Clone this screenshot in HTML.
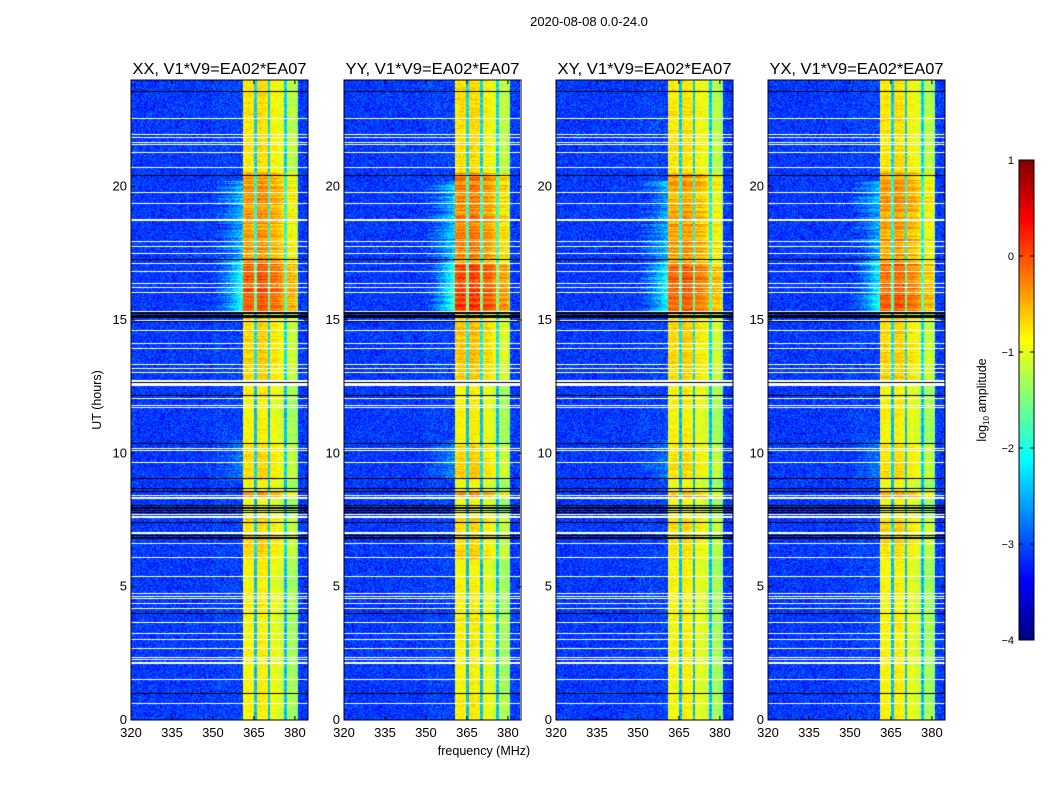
<!DOCTYPE html>
<html><head><meta charset="utf-8">
<style>
body{margin:0;background:#fff;width:1050px;height:800px;overflow:hidden;position:relative;font-family:"Liberation Sans",sans-serif}
canvas{position:absolute}
svg{position:absolute;left:0;top:0}
</style></head>
<body>
<canvas id="c0" width="177" height="640" style="left:131px;top:80px"></canvas>
<canvas id="c1" width="176" height="640" style="left:344px;top:80px"></canvas>
<canvas id="c2" width="177" height="640" style="left:556px;top:80px"></canvas>
<canvas id="c3" width="177" height="640" style="left:768px;top:80px"></canvas>
<canvas id="cb" width="15" height="480" style="left:1019px;top:160px"></canvas>
<svg id="ov" width="1050" height="800"></svg>
<script>
// ---- data ----
const panelTitles = ["XX, V1*V9=EA02*EA07","YY, V1*V9=EA02*EA07","XY, V1*V9=EA02*EA07","YX, V1*V9=EA02*EA07"];
const panelGain = [1.0, 1.2, 0.95, 1.0];
const xTicks = [320,335,350,365,380];
const yTicks = [0,5,10,15,20];
const cbTicks = [1,0,-1,-2,-3,-4];
// baseline log10 amplitude per 1 MHz channel, 320..384
const chanBase = [
-3.1,-3.1,-3.1,-3.1,-3.1,-3.1,-3.1,-3.1,-3.1,-3.1,
-3.1,-3.1,-3.1,-3.1,-3.1,-3.1,-3.1,-3.1,-3.1,-3.1,
-3.1,-3.1,-3.1,-3.1,-3.1,-3.1,-3.1,-3.1,-3.1,-3.1,
-3.05,-3.05,-3.05,-3.05,-3.05,-3.05,-3.05,-3.05,-3.05,-3.05,
-3.05,-0.95,-0.9,-0.9,-0.95,-2.5,-0.85,-0.85,-0.9,-0.9,
-2.5,-1.0,-1.0,-1.05,-1.1,-1.2,-2.5,-1.35,-1.35,-1.35,
-1.45,-3.05,-3.1,-3.1,-3.1];
const bandStart = 361, bandEnd = 380.8;
// band boosts by time segment [startHr, endHr, addLog]
const bandBoost = [[0,6,0.05],[6,7.6,0.2],[8.3,8.6,0.5],[9,10.3,0.2],[10.3,12.5,0.05],[12.8,15.1,0.25],[15.3,17.1,0.8],[17.1,20.5,0.5],[20.5,24,0.15]];
// emission plume left of band [startHr, endHr, strength]
const plume = [[15.3,17.2,0.9],[17.2,20.2,0.5],[9,10.5,0.25]];
// flagged (blank) rows, hours
const whiteRows = [22.56,21.99,21.87,21.68,21.6,21.31,20.73,19.81,19.38,18.79,18.75,17.97,17.79,17.52,17.13,16.84,16.37,16.24,16.06,15.35,15.0,14.62,14.12,13.96,13.34,13.19,13.06,12.75,12.7,12.65,12.6,12.55,12.08,11.81,11.75,10.21,10.12,9.66,8.43,8.38,8.32,7.72,7.66,7.6,7.06,7.0,6.64,6.12,5.41,4.75,4.66,4.56,4.4,4.19,3.69,3.26,3.04,2.7,2.37,2.29,2.19,2.12,1.54,0.65];
const blackRows = [23.58,20.44,17.29,15.3,15.25,15.2,15.15,15.1,14.98,13.2,12.67,12.2,10.4,9.09,8.7,8.6,8.06,8.0,7.94,7.87,7.8,7.44,6.94,6.88,6.82,4.0,1.0];
// ---- helpers ----
const F0=320, F1=384.8, T0=0, T1=24;
function jet(x){x=Math.max(0,Math.min(1,x));const c=v=>Math.round(255*Math.max(0,Math.min(1,v)));
 return [c(1.5-Math.abs(4*x-3)),c(1.5-Math.abs(4*x-2)),c(1.5-Math.abs(4*x-1))];}
function hash(a,b){let h=(a*374761393+b*668265263)|0;h=(h^(h>>>13))*1274126177|0;return ((h^(h>>>16))>>>0)/4294967295;}
function segVal(arr,t){let s=0;for(const g of arr){if(t>=g[0]&&t<g[1])s+=g[2];}return s;}
for(let p=0;p<4;p++){
 const cv=document.getElementById('c'+p),ctx=cv.getContext('2d'),W=cv.width,H=cv.height;
 const im=ctx.createImageData(W,H);
 const whitePx=new Set(whiteRows.map(t=>Math.round((T1-t)/(T1-T0)*H)));
 const blackPx=new Set(blackRows.map(t=>Math.round((T1-t)/(T1-T0)*H)));
 for(let y=0;y<H;y++){
  const t=T1-(y+0.5)/H*(T1-T0);
  const bb=segVal(bandBoost,t)*panelGain[p], pl=segVal(plume,t)*panelGain[p];
  const rowN=(hash(y,p*7+3)-0.5)*(bb>0.3?0.5:0.25);
  for(let x=0;x<W;x++){
   const i=(y*W+x)*4;
   if(whitePx.has(y)){im.data[i]=im.data[i+1]=im.data[i+2]=255;im.data[i+3]=255;continue;}
   if(blackPx.has(y)){im.data[i]=im.data[i+1]=im.data[i+2]=0;im.data[i+3]=255;continue;}
   const f=F0+(x+0.5)/W*(F1-F0);
   const ch=Math.min(chanBase.length-1,Math.max(0,Math.floor(f-320)));
   let v=chanBase[ch];
   if(f>=bandStart&&f<bandEnd){v+=bb+rowN+(hash(x+p*1000,y)-0.5)*0.35;}
   else{
    v+=(hash(x+p*1000,y)-0.5)*0.65;
    if(f<bandStart&&f>bandStart-10){v+=pl*Math.pow(Math.max(0,1-(bandStart-f)/10),1.5)*1.2+(pl>0?rowN:0);}
   }
   const c=jet((v+4)/5);
   im.data[i]=c[0];im.data[i+1]=c[1];im.data[i+2]=c[2];im.data[i+3]=255;
  }
 }
 ctx.putImageData(im,0,0);
}
// colorbar
{const cv=document.getElementById('cb'),ctx=cv.getContext('2d');
 for(let y=0;y<480;y++){const c=jet(1-(y+0.5)/480);ctx.fillStyle=`rgb(${c[0]},${c[1]},${c[2]})`;ctx.fillRect(0,y,15,1);}}
// overlay
const NS="http://www.w3.org/2000/svg",ov=document.getElementById('ov');
function el(tag,attrs,txt){const e=document.createElementNS(NS,tag);for(const k in attrs)e.setAttribute(k,attrs[k]);if(txt!=null)e.textContent=txt;ov.appendChild(e);return e;}
const panelLeft=[131,344,556,768], PW=177, PT=80, PH=640;
for(let p=0;p<4;p++){
 const L=panelLeft[p];
 const fr=el('rect',{x:L,y:PT,width:PW,height:PH,fill:'none',stroke:'#000','stroke-width':1});
 
 
 const tt=el('text',{x:L+PW/2,y:74,'text-anchor':'middle','font-size':16,textLength:174,lengthAdjust:'spacingAndGlyphs'},panelTitles[p]);
 
 
 for(const v of xTicks){
  const x=L+(v-F0)/(F1-F0)*PW;
  el('line',{x1:x,x2:x,y1:PT+PH,y2:PT+PH-4,stroke:'#000'});
  el('line',{x1:x,x2:x,y1:PT,y2:PT+4,stroke:'#000'});
  const t=el('text',{x:x,y:737,'text-anchor':'middle','font-size':13},String(v));
  
  
 }
 for(const v of yTicks){
  const y=PT+PH-(v-T0)/(T1-T0)*PH;
  el('line',{x1:L,x2:L+4,y1:y,y2:y,stroke:'#000'});
  el('line',{x1:L+PW,x2:L+PW-4,y1:y,y2:y,stroke:'#000'});
  const t=el('text',{x:L-4,y:y+4,'text-anchor':'end','font-size':13},String(v));
  
  
 }
}
const st=el('text',{x:589,y:26,'text-anchor':'middle','font-size':13},'2020-08-08 0.0-24.0');


const xl=el('text',{x:484,y:755,'text-anchor':'middle','font-size':12.5},'frequency (MHz)');


const yl=el('text',{x:0,y:0,'text-anchor':'middle','font-size':12.5,transform:'translate(101,400) rotate(-90)'},'UT (hours)');


const cbf=el('rect',{x:1019,y:160,width:15,height:480,fill:'none',stroke:'#000'});


for(const v of cbTicks){
 const y=160+(1-v)/5*480;
 el('line',{x1:1019,x2:1023,y1:y,y2:y,stroke:'#000'});
 el('line',{x1:1034,x2:1030,y1:y,y2:y,stroke:'#000'});
 const t=el('text',{x:1014,y:y+4,'text-anchor':'end','font-size':11},v<0?'\u2212'+(-v):String(v));
 
 
}
const cl=el('text',{x:0,y:0,'text-anchor':'middle','font-size':12.5,transform:'translate(986,400) rotate(-90)'},'');


const a=document.createElementNS(NS,'tspan');a.textContent='log';cl.appendChild(a);
const b=document.createElementNS(NS,'tspan');b.setAttribute('font-size','8');b.setAttribute('dy','3');b.textContent='10';cl.appendChild(b);
const c=document.createElementNS(NS,'tspan');c.setAttribute('dy','-3');c.textContent=' amplitude';cl.appendChild(c);
</script>
</body></html>
